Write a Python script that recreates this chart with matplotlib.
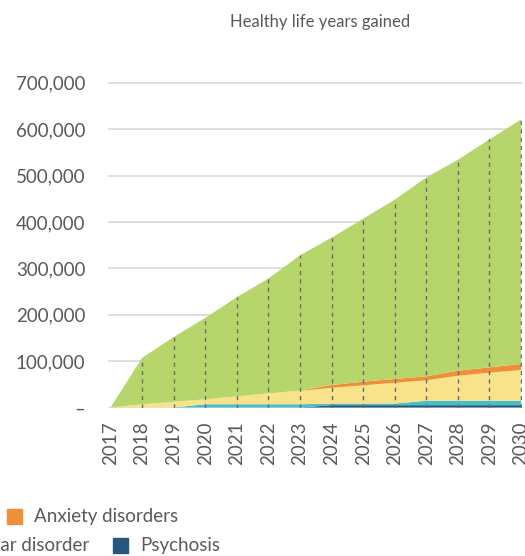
import numpy as np
import matplotlib
matplotlib.use("Agg")
from matplotlib import pyplot as plt
from matplotlib.patches import Rectangle

plt.rcParams['font.family'] = ['Lato', 'DejaVu Sans']

# data, thousands of healthy life years
years = np.arange(2017, 2031)
psychosis = [0, 0, 0, 0, 0, 0, 0, 5, 5, 5, 5, 5, 5, 5]
bipolar = [0, 0, 0, 7, 7, 7, 7, 3.5, 3.5, 3.5, 9.5, 9.5, 9.5, 9.5]
other = [0, 7, 12.5, 10.6, 17, 23.5, 29, 34, 39.3, 44.9, 44.1, 54, 60.5, 66.3]
anxiety = [0, 0, 0, 0, 0, 0, 0.5, 6, 7.8, 8, 8.6, 10.8, 11.6, 13]
total = [0, 107, 152, 193, 238, 278, 328, 366, 407, 448, 496, 534, 578, 621]

labels = ["Psychosis", "Bipolar disorder", "Substance use disorders",
          "Anxiety disorders", "Depression"]
colors = ["#25587f", "#47bfc8", "#f8e38b", "#ef8f38", "#b6d66c"]

y_ticks = [0, 100, 200, 300, 400, 500, 600, 700]
y_ticklabels = ["\u2013", "100,000", "200,000", "300,000", "400,000",
                "500,000", "600,000", "700,000"]

grey = "#58595b"

depression = np.array(total) - (np.array(psychosis) + np.array(bipolar)
                                + np.array(other) + np.array(anxiety))
series = [psychosis, bipolar, other, anxiety, depression]

fig = plt.figure(figsize=(5.25, 5.56), dpi=100)
ax = fig.add_axes([108.3 / 525, 148.5 / 556, 413.7 / 525, 334 / 556])

ax.stackplot(years, *series, colors=colors, linewidth=0)

# dashed year markers up to the top of the stack
ax.vlines(years[1:], 0, total[1:], colors="#6a6b6e",
          linestyles=(0, (3, 3)), linewidth=1, zorder=3)

ax.set_xlim(2016.93, 2030.03)
ax.set_ylim(0, 720)
ax.set_yticks(y_ticks)
ax.set_yticklabels(y_ticklabels)
ax.set_xticks(years)
ax.set_xticklabels([str(y) for y in years], rotation=90)
ax.tick_params(axis="y", length=0, pad=16.5, labelsize=13.5, labelcolor=grey)
ax.tick_params(axis="x", length=0, pad=10, labelsize=13.5, labelcolor=grey)
ax.grid(axis="y", color="#d9d9d9", linewidth=1.2)
ax.set_axisbelow(True)
for s in ax.spines.values():
    s.set_visible(False)

fig.text(320 / 525, 1 - 22 / 556, "Healthy life years gained",
         ha="center", va="center", fontsize=12, color=grey)

# legend, cut off at the left edge like the reference
def px(x, y):
    return x / 525, 1 - y / 556

def legend_item(x, y, color, text):
    fx, fy = px(x, y + 15)
    fig.patches.append(Rectangle((fx, fy), 15 / 525, 15 / 556, color=color,
                                 transform=fig.transFigure, figure=fig))
    tx, ty = px(x + 27, y + 7.5)
    fig.text(tx, ty, text, ha="left", va="center", fontsize=13.5, color=grey)

legend_item(7, 509, colors[3], labels[3])
tx, ty = px(89, 545.5)
fig.text(tx, ty, labels[1], ha="right", va="center", fontsize=13.5, color=grey)
legend_item(113, 538, colors[0], labels[0])

fig.savefig("out.png", dpi=100)
